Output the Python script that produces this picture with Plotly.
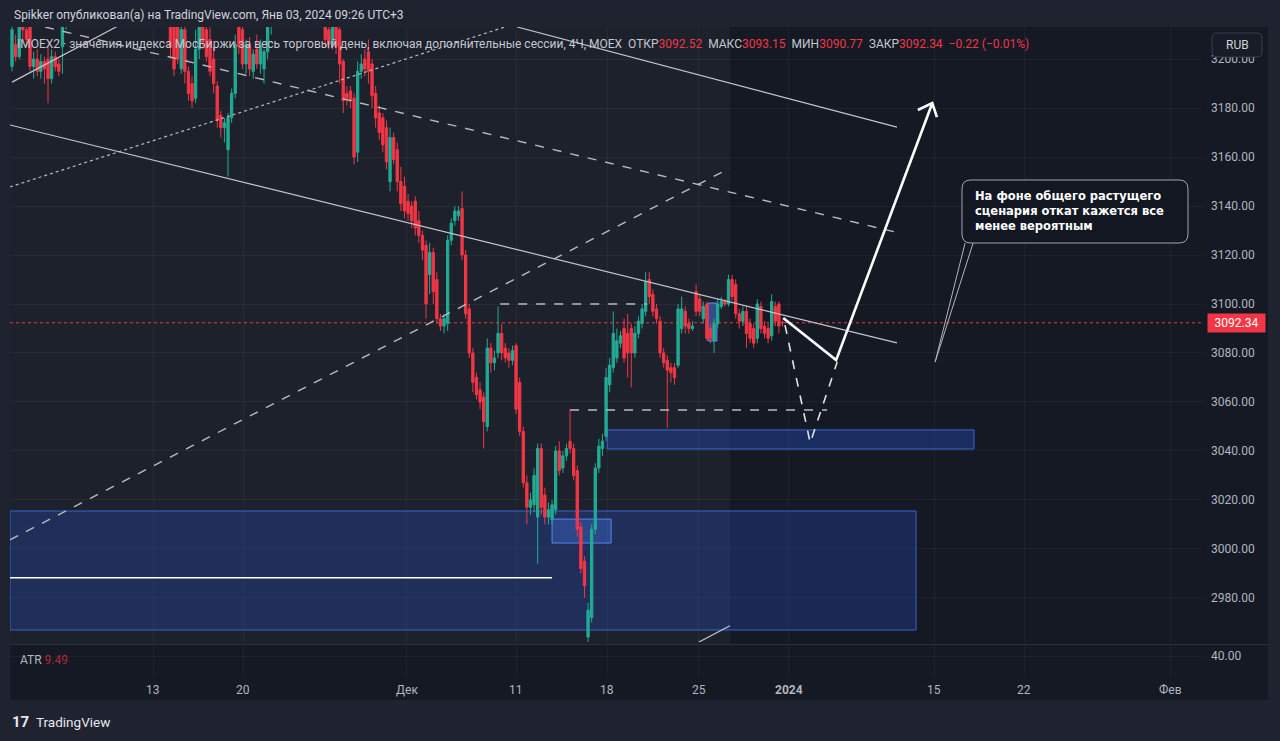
import plotly.graph_objects as go

W, H = 1280, 741

# ---------------- data (4H bars, index = bar number) ----------------
bar_index = list(range(215))
open_prices = [
    3197, 3206, 3201, 3214, 3212, 3215, 3197, 3200, 3195, 3199, 3200, 3192, 3201, 3198, 3205,
    3214, 3220, 3226, 3224, 3229, 3235, 3232, 3230, 3240, 3238, 3233, 3236, 3241, 3236, 3231,
    3234, 3230, 3227, 3233, 3229, 3225, 3228, 3231, 3226, 3222, 3226, 3223, 3220, 3223, 3222,
    3214, 3215, 3196, 3212, 3195, 3190, 3184, 3204, 3216, 3212, 3208, 3200, 3189, 3177, 3172,
    3163, 3176, 3186, 3214, 3212, 3198, 3206, 3195, 3204, 3198, 3196, 3203, 3214, 3222, 3226,
    3232, 3229, 3231, 3237, 3234, 3228, 3230, 3233, 3227, 3224, 3226, 3221, 3218, 3212, 3206,
    3216, 3212, 3199, 3186, 3187, 3184, 3162, 3195, 3200, 3203, 3198, 3186, 3178, 3176, 3172,
    3150, 3168, 3163, 3150, 3148, 3142, 3140, 3142, 3134, 3128, 3124, 3112, 3121, 3110, 3094,
    3091, 3092, 3126, 3134, 3136, 3139, 3120, 3098, 3080, 3070, 3065, 3062, 3050, 3082, 3076,
    3080, 3088, 3082, 3080, 3077, 3083, 3068, 3048, 3027, 3017, 3018, 3013, 3041, 3022, 3013,
    3012, 3016, 3040, 3033, 3038, 3044, 3041, 3032, 3009, 2995, 2964, 2972, 3008, 3033, 3041,
    3046, 3067, 3074, 3078, 3084, 3090, 3088, 3090, 3080, 3088, 3092, 3097, 3110, 3104, 3098,
    3093, 3080, 3077, 3074, 3074, 3075, 3090, 3097, 3092, 3090, 3105, 3102, 3094, 3100, 3090,
    3085, 3092, 3099, 3101, 3100, 3110, 3108, 3096, 3093, 3097, 3092, 3090, 3086, 3099, 3091,
    3090, 3087, 3099, 3100, 3092.52,
]
high_prices = [
    3218, 3210, 3220, 3222, 3216, 3218, 3203, 3204, 3202, 3201, 3205, 3204, 3203, 3200, 3218,
    3222, 3228, 3232, 3231, 3238, 3240, 3236, 3242, 3246, 3241, 3237, 3243, 3244, 3239, 3236,
    3238, 3233, 3235, 3237, 3232, 3230, 3234, 3233, 3229, 3228, 3230, 3226, 3225, 3226, 3226,
    3220, 3222, 3216, 3214, 3197, 3193, 3212, 3220, 3220, 3218, 3213, 3205, 3191, 3179, 3176,
    3178, 3188, 3210, 3220, 3216, 3208, 3209, 3204, 3210, 3208, 3204, 3220, 3228, 3230, 3235,
    3238, 3234, 3240, 3242, 3237, 3233, 3236, 3236, 3231, 3229, 3230, 3224, 3222, 3216, 3218,
    3220, 3216, 3200, 3189, 3189, 3186, 3199, 3202, 3204, 3208, 3200, 3189, 3181, 3178, 3175,
    3172, 3170, 3166, 3156, 3152, 3145, 3142, 3144, 3138, 3130, 3126, 3125, 3123, 3113, 3096,
    3096, 3128, 3135, 3140, 3140, 3146, 3122, 3100, 3082, 3072, 3068, 3064, 3086, 3084, 3081,
    3099, 3092, 3084, 3082, 3083, 3084, 3070, 3050, 3030, 3023, 3033, 3043, 3043, 3025, 3019,
    3020, 3042, 3044, 3040, 3043, 3057, 3043, 3034, 3011, 2997, 2978, 3010, 3035, 3045, 3047,
    3074, 3078, 3097, 3090, 3089, 3094, 3096, 3092, 3091, 3095, 3100, 3113, 3113, 3106, 3100,
    3095, 3082, 3079, 3076, 3076, 3100, 3103, 3099, 3094, 3093, 3108, 3104, 3101, 3101, 3092,
    3094, 3102, 3103, 3102, 3112, 3112, 3110, 3098, 3099, 3099, 3094, 3092, 3102, 3101, 3093,
    3092, 3104, 3101, 3101, 3093.15,
]
low_prices = [
    3195, 3199, 3200, 3208, 3205, 3195, 3192, 3193, 3192, 3190, 3182, 3190, 3195, 3193, 3194,
    3212, 3218, 3222, 3221, 3226, 3230, 3227, 3228, 3235, 3230, 3228, 3233, 3234, 3229, 3226,
    3229, 3224, 3225, 3228, 3222, 3221, 3226, 3224, 3219, 3218, 3220, 3217, 3216, 3215, 3200,
    3193, 3198, 3194, 3190, 3183, 3180, 3182, 3200, 3204, 3199, 3193, 3186, 3172, 3168, 3166,
    3152, 3174, 3184, 3202, 3196, 3194, 3193, 3192, 3196, 3194, 3190, 3200, 3210, 3218, 3222,
    3227, 3224, 3228, 3231, 3226, 3223, 3226, 3225, 3220, 3218, 3219, 3213, 3205, 3204, 3204,
    3202, 3190, 3178, 3181, 3180, 3157, 3158, 3192, 3193, 3190, 3180, 3172, 3167, 3162, 3155,
    3146, 3157, 3146, 3138, 3135, 3134, 3131, 3128, 3125, 3118, 3094, 3104, 3100, 3092, 3089,
    3088, 3089, 3124, 3132, 3134, 3118, 3094, 3078, 3064, 3061, 3057, 3041, 3048, 3072, 3073,
    3078, 3077, 3076, 3074, 3075, 3055, 3046, 3025, 3010, 3014, 3015, 2994, 3014, 3010, 3010,
    3010, 3014, 3030, 3031, 3036, 3039, 3028, 3005, 2990, 2980, 2961.6, 2970, 3006, 3031, 3038,
    3044, 3064, 3072, 3076, 3082, 3076, 3070, 3066, 3078, 3086, 3090, 3095, 3100, 3095, 3092,
    3078, 3074, 3049.5, 3068, 3067, 3074, 3088, 3088, 3088, 3089, 3095, 3095, 3092, 3085, 3084,
    3080, 3090, 3098, 3099, 3099, 3101, 3094, 3090, 3091, 3082, 3084, 3082, 3084, 3088, 3086,
    3084, 3085, 3091, 3088, 3090.77,
]
close_prices = [
    3212, 3201, 3214, 3212, 3208, 3197, 3200, 3195, 3199, 3196, 3192, 3201, 3197, 3195, 3214,
    3220, 3226, 3224, 3229, 3235, 3232, 3230, 3240, 3238, 3233, 3236, 3241, 3236, 3231, 3234,
    3230, 3227, 3233, 3229, 3225, 3228, 3231, 3226, 3222, 3226, 3223, 3220, 3223, 3218, 3205,
    3196, 3200, 3212, 3195, 3186, 3183, 3204, 3214, 3207, 3201, 3195, 3190, 3175, 3172, 3174,
    3176, 3186, 3206, 3205, 3198, 3206, 3196, 3202, 3198, 3205, 3203, 3214, 3222, 3226, 3232,
    3229, 3231, 3237, 3234, 3228, 3230, 3233, 3227, 3224, 3226, 3221, 3217, 3208, 3206, 3214,
    3205, 3198, 3183, 3184, 3183, 3160, 3195, 3198, 3196, 3195, 3185, 3176, 3170, 3165, 3158,
    3168, 3159, 3150, 3141, 3138, 3137, 3134, 3131, 3128, 3122, 3100, 3121, 3105, 3094, 3091,
    3094, 3126, 3133, 3138, 3138, 3120, 3096, 3080, 3068, 3063, 3060, 3052, 3082, 3076, 3078,
    3088, 3080, 3078, 3077, 3081, 3057, 3048, 3027, 3017, 3020, 3030, 3041, 3017, 3013, 3016,
    3018, 3040, 3032, 3038, 3041, 3041, 3030, 3008, 2992, 2985, 2975, 3008, 3033, 3042, 3044,
    3070, 3075, 3088, 3085, 3087, 3078, 3080, 3080, 3088, 3093, 3098, 3109, 3103, 3097, 3094,
    3080, 3076, 3073, 3072, 3070, 3098, 3098, 3091, 3090, 3091, 3097, 3097, 3099, 3086, 3086,
    3092, 3100, 3101, 3100, 3110, 3103, 3096, 3093, 3097, 3088, 3086, 3084, 3100, 3090, 3088,
    3086, 3101, 3093, 3091, 3092.34,
]

last_price = 3092.34
legend_values = ["3092.52", "3093.15", "3090.77", "3092.34"]
legend_labels = ["ОТКР", "МАКС", "МИН", "ЗАКР"]
change_text = "−0.22 (−0.01%)"
atr_value = "9.49"

x_tick_pos = [39.2, 64.2, 109.7, 140.0, 165.3, 190.8, 215.8, 256.1, 281.1, 321.7]
x_tick_text = ["13", "20", "Дек", "11", "18", "25", "2024", "15", "22", "Фев"]
price_ticks = [2980, 3000, 3020, 3040, 3060, 3080, 3100, 3120, 3140, 3160, 3180, 3200]

# chart drawings: (bar index, price)
solid_lines = [
    [(-0.56, 3173.1), (245.8, 3084.1)],
    [(140.3, 3213.1), (245.8, 3172.2)],
    [(0.0, 3190.6), (29.4, 3213.5)],
    [(190.3, 2961.6), (199.4, 2968.6)],
]
dashed_lines = [
    [(9.2, 3213.1), (245.3, 3129.4)],
    [(-0.56, 3003.7), (199.4, 3155.5)],
    [(135.6, 3100.0), (176.4, 3100.0)],
    [(155.0, 3056.7), (226.4, 3056.7)],
]
dotted_line = [(-0.56, 3147.8), (136.9, 3213.1)]
white_level = [(-0.56, 2988.2), (150.0, 2988.2)]
zones = [
    [(-0.56, 2966.9), (251.1, 3015.5)],
    [(165.3, 3040.8), (267.2, 3048.6)],
    [(150.0, 3002.4), (166.4, 3012.2)],
    [(193.3, 3084.9), (195.8, 3100.4)],
]
scenario_main = [(214.2, 3094.3), (228.9, 3077.1), (255.6, 3182.0)]
arrow_head = [(251.6, 3179.2), (255.6, 3182.0), (256.9, 3176.3)]
scenario_alt = [(214.7, 3091.4), (221.7, 3043.3), (229.2, 3076.3)]
callout_tip = (256.4, 3076.3)
callout_text = "На фоне общего растущего<br>сценария откат кажется все<br>менее вероятным"

# ---------------- helpers ----------------
def px(x):
    return x / W


def py(y):
    return 1 - y / H


def rrect(x0, y0, x1, y1, r):
    pts = [
        ("M", (x0 + r, y0)), ("L", (x1 - r, y0)), ("Q", (x1, y0), (x1, y0 + r)),
        ("L", (x1, y1 - r)), ("Q", (x1, y1), (x1 - r, y1)), ("L", (x0 + r, y1)),
        ("Q", (x0, y1), (x0, y1 - r)), ("L", (x0, y0 + r)), ("Q", (x0, y0), (x0 + r, y0)),
    ]
    s = ""
    for p in pts:
        s += p[0] + " " + " ".join(f"{px(a):.5f},{py(b):.5f}" for a, b in p[1:]) + " "
    return s + "Z"


XR = [-0.56, 330.8]
YR = [2962.0, 3213.1]
BG_OUT = "#1f2330"
BG_DARK = "#151924"
BG_LIGHT = "#1d212c"
GRID = "rgba(255,255,255,0.045)"
TXT = "#b2b5be"
RED = "#f23645"
GREEN = "#22ab94"
FONT = "Roboto"

fig = go.Figure()
fig.add_trace(go.Candlestick(
    x=bar_index, open=open_prices, high=high_prices, low=low_prices, close=close_prices,
    increasing=dict(line=dict(color=GREEN, width=1), fillcolor=GREEN),
    decreasing=dict(line=dict(color=RED, width=1), fillcolor=RED),
    whiskerwidth=0, hoverinfo="skip", showlegend=False, xaxis="x", yaxis="y",
))
fig.add_trace(go.Scatter(x=[0], y=[-100], mode="markers", marker=dict(opacity=0),
                         showlegend=False, hoverinfo="skip", xaxis="x2", yaxis="y2"))

shapes = []
# backgrounds
shapes.append(dict(type="rect", xref="paper", yref="paper", x0=px(10), x1=px(1268), y0=py(700), y1=py(27),
                   fillcolor=BG_DARK, line=dict(width=0), layer="below"))
shapes.append(dict(type="rect", xref="paper", yref="paper", x0=px(10), x1=px(730), y0=py(644), y1=py(27),
                   fillcolor=BG_LIGHT, line=dict(width=0), layer="below"))
shapes.append(dict(type="line", xref="paper", yref="paper", x0=px(10), x1=px(1268), y0=py(644.5), y1=py(644.5),
                   line=dict(color="#2a2e39", width=1), layer="below"))
# zones
zone_styles = [
    ("rgba(41,98,255,0.22)", "rgba(60,110,230,0.85)"),
    ("rgba(41,98,255,0.28)", "rgba(60,110,230,0.9)"),
    ("rgba(80,130,255,0.30)", "rgba(90,140,255,0.9)"),
    ("rgba(80,130,255,0.45)", "rgba(110,150,255,0.9)"),
]
for (a, b), (fc, lc) in zip(zones, zone_styles):
    shapes.append(dict(type="rect", xref="x", yref="y", x0=a[0], y0=a[1], x1=b[0], y1=b[1],
                       fillcolor=fc, line=dict(color=lc, width=1), layer="between"))
# last price line
shapes.append(dict(type="line", xref="x", yref="y", x0=XR[0], x1=XR[1], y0=last_price, y1=last_price,
                   line=dict(color=RED, width=1, dash="dot"), layer="between"))
# trend lines
for a, b in solid_lines:
    shapes.append(dict(type="line", xref="x", yref="y", x0=a[0], y0=a[1], x1=b[0], y1=b[1],
                       line=dict(color="#c3c5cb", width=1.2), layer="above"))
for a, b in dashed_lines:
    shapes.append(dict(type="line", xref="x", yref="y", x0=a[0], y0=a[1], x1=b[0], y1=b[1],
                       line=dict(color="#b8bac1", width=1.4, dash="dash"), layer="above"))
shapes.append(dict(type="line", xref="x", yref="y", x0=dotted_line[0][0], y0=dotted_line[0][1],
                   x1=dotted_line[1][0], y1=dotted_line[1][1],
                   line=dict(color="#b8bac1", width=1.2, dash="dot"), layer="above"))
shapes.append(dict(type="line", xref="x", yref="y", x0=white_level[0][0], y0=white_level[0][1],
                   x1=white_level[1][0], y1=white_level[1][1],
                   line=dict(color="#ffffff", width=1.5), layer="above"))


def data_path(points):
    return "M " + " L ".join(f"{u},{p}" for u, p in points)


shapes.append(dict(type="path", xref="x", yref="y", path=data_path(scenario_main),
                   line=dict(color="#ffffff", width=2.6), layer="above"))
shapes.append(dict(type="path", xref="x", yref="y", path=data_path(arrow_head),
                   line=dict(color="#ffffff", width=2.6), layer="above"))
shapes.append(dict(type="path", xref="x", yref="y", path=data_path(scenario_alt),
                   line=dict(color="#e0e2e8", width=1.6, dash="dash"), layer="above"))
# callout pointer + box
for bx in (965, 973):
    shapes.append(dict(type="line", xref="x", yref="y", x0=(bx - 12) / 3.6, y0=3180 - (243 - 108) / 2.45,
                       x1=callout_tip[0], y1=callout_tip[1],
                       line=dict(color="#b2b5be", width=1), layer="above"))
shapes.append(dict(type="path", xref="paper", yref="paper", path=rrect(962, 180, 1188, 243, 9),
                   fillcolor="#131722", line=dict(color="#a3a6af", width=1), layer="above"))
# RUB button
shapes.append(dict(type="path", xref="paper", yref="paper", path=rrect(1212, 33, 1262, 57, 5),
                   fillcolor="#181c27", line=dict(color="#3a3e4a", width=1), layer="above"))

annotations = []
annotations.append(dict(xref="paper", yref="paper", x=px(12), y=py(15), xanchor="left", yanchor="middle",
                        text="Spikker опубликовал(а) на TradingView.com, Янв 03, 2024 09:26 UTC+3",
                        showarrow=False, font=dict(family=FONT, size=12, color="#d1d4dc")))
legend = "IMOEX2 · значения индекса МосБиржи за весь торговый день, включая дополнительные сессии, 4Ч, MOEX"
for lab, val in zip(legend_labels, legend_values):
    legend += f"  {lab}<span style='color:{RED}'>{val}</span>"
legend += f"  <span style='color:{RED}'>{change_text}</span>"
annotations.append(dict(xref="paper", yref="paper", x=px(15), y=py(44), xanchor="left", yanchor="middle",
                        text=legend, showarrow=False, font=dict(family=FONT, size=12, color="#c4c7cf")))
annotations.append(dict(xref="paper", yref="paper", x=px(1237), y=py(45), xanchor="center", yanchor="middle",
                        text="RUB", showarrow=False, font=dict(family=FONT, size=12, color="#d1d4dc")))
annotations.append(dict(xref="paper", yref="y", x=px(1207), y=last_price, xanchor="left", yanchor="middle",
                        text=f"{last_price:.2f}", showarrow=False, bgcolor=RED, width=54, height=15,
                        borderpad=1.5, font=dict(family=FONT, size=12, color="#ffffff")))
for pos, lab in zip(x_tick_pos, x_tick_text):
    t = f"<b>{lab}</b>" if lab == "2024" else lab
    annotations.append(dict(xref="x", yref="paper", x=pos, y=py(690), xanchor="center", yanchor="middle",
                            text=t, showarrow=False, font=dict(family=FONT, size=12, color=TXT)))
annotations.append(dict(xref="paper", yref="paper", x=px(18), y=py(660), xanchor="left", yanchor="middle",
                        text=f"ATR <span style='color:#b22833'>{atr_value}</span>", showarrow=False,
                        font=dict(family=FONT, size=12, color=TXT)))
annotations.append(dict(xref="paper", yref="paper", x=px(10), y=py(722), xanchor="left", yanchor="middle",
                        text="<b>17</b>", showarrow=False, font=dict(family=FONT, size=15, color="#e6e8ee")))
annotations.append(dict(xref="paper", yref="paper", x=px(34), y=py(722), xanchor="left", yanchor="middle",
                        text="TradingView", showarrow=False, font=dict(family=FONT, size=13.5, color="#e6e8ee")))
annotations.append(dict(xref="paper", yref="paper", x=px(973), y=py(211), xanchor="left", yanchor="middle",
                        text=f"<b>{callout_text}</b>", align="left", showarrow=False,
                        font=dict(family="DejaVu Sans", size=11.5, color="#ffffff")))

fig.update_layout(
    width=W, height=H, autosize=False,
    margin=dict(l=0, r=0, t=0, b=0),
    paper_bgcolor=BG_OUT, plot_bgcolor=BG_DARK,
    showlegend=False, boxgap=0.08,
    xaxis=dict(domain=[px(10), px(1203)], range=XR, anchor="y", rangeslider=dict(visible=False),
               tickmode="array", tickvals=x_tick_pos, showticklabels=False, ticks="",
               showgrid=True, gridcolor=GRID, gridwidth=1, zeroline=False, showline=False, fixedrange=True),
    yaxis=dict(domain=[py(642), py(27)], range=YR, side="right", anchor="x",
               tickmode="array", tickvals=price_ticks, ticktext=[f"{v:.2f}" for v in price_ticks],
               ticks="", ticklabelstandoff=7, tickfont=dict(family=FONT, size=12, color=TXT),
               showgrid=True, gridcolor=GRID, zeroline=False, showline=False, fixedrange=True),
    xaxis2=dict(domain=[px(10), px(1203)], range=XR, anchor="y2", tickmode="array", tickvals=x_tick_pos,
                showticklabels=False, ticks="", showgrid=True, gridcolor=GRID, zeroline=False,
                showline=False, fixedrange=True),
    yaxis2=dict(domain=[py(677), py(645)], range=[0, 61], side="right", anchor="x2",
                tickmode="array", tickvals=[40], ticktext=["40.00"], ticks="", ticklabelstandoff=7,
                tickfont=dict(family=FONT, size=12, color=TXT), showgrid=True, gridcolor=GRID,
                zeroline=False, showline=False, fixedrange=True),
    shapes=shapes, annotations=annotations,
)

fig.write_html(
    "out.html",
    config={"displayModeBar": False},
    post_script="document.body.style.margin='0';document.body.style.padding='0';"
                "document.body.style.background='#1f2330';document.body.style.overflow='hidden';",
)
